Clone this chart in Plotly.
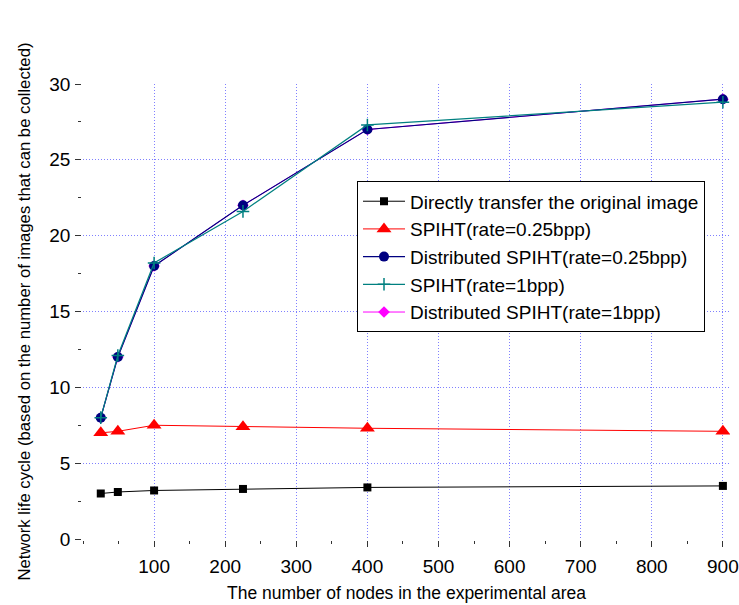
import plotly.graph_objects as go

nodes = [25, 49, 100, 225, 400, 900]
direct = [3.0, 3.1, 3.2, 3.3, 3.4, 3.5]
spiht_025 = [7.0, 7.1, 7.5, 7.4, 7.3, 7.1]
dist_025 = [8.0, 12.0, 18.0, 22.0, 27.0, 29.0]
spiht_1 = [8.0, 12.1, 18.2, 21.6, 27.3, 28.8]
dist_1 = [8.0, 12.0, 18.0, 22.0, 27.0, 29.0]

names = ["Directly transfer the original image", "SPIHT(rate=0.25bpp)",
         "Distributed SPIHT(rate=0.25bpp)", "SPIHT(rate=1bpp)", "Distributed SPIHT(rate=1bpp)"]

FONT = "Liberation Sans, Arial, sans-serif"
fig = go.Figure()

fig.add_trace(go.Scatter(x=nodes, y=direct, name=names[0], mode="lines+markers",
                         line=dict(color="#000000", width=1),
                         marker=dict(symbol="square", size=8, color="#000000")))
fig.add_trace(go.Scatter(x=nodes, y=spiht_025, name=names[1], mode="lines+markers",
                         line=dict(color="#ff0000", width=1),
                         marker=dict(symbol="triangle-up", size=13, color="#ff0000")))
fig.add_trace(go.Scatter(x=nodes, y=dist_025, name=names[2], mode="lines+markers",
                         line=dict(color="#000080", width=1.2),
                         marker=dict(symbol="circle", size=10, color="#000080")))
fig.add_trace(go.Scatter(x=nodes, y=spiht_1, name=names[3], mode="lines+markers",
                         line=dict(color="#008080", width=1.2),
                         marker=dict(symbol="cross-thin", size=9, color="#008080",
                                     line=dict(color="#008080", width=1.5))))
fig.add_trace(go.Scatter(x=nodes, y=dist_1, name=names[4], mode="lines+markers", zorder=-1,
                         line=dict(color="#ff00ff", width=1),
                         marker=dict(symbol="diamond", size=9, color="#ff00ff")))

grid = dict(showgrid=True, gridcolor="#8080ff", gridwidth=1, griddash="1px,2px")
axis_common = dict(showline=True, linecolor="#333333", linewidth=1.5, ticks="outside",
                   ticklen=6, tickwidth=1.3, tickcolor="#333333", zeroline=False,
                   automargin=False, tickfont=dict(size=19, color="#000"), **grid)
fig.update_xaxes(range=[0, 910], tickvals=[100, 200, 300, 400, 500, 600, 700, 800, 900],
                 minor=dict(ticks="outside", ticklen=3, tickwidth=1, tickcolor="#333333",
                            dtick=50, tick0=0, showgrid=False),
                 ticklabelstandoff=3,
                 title=dict(text="The number of nodes in the experimental area",
                            font=dict(size=17.5, color="#000"), standoff=11),
                 **axis_common)
fig.update_yaxes(range=[0, 30], tickvals=[0, 5, 10, 15, 20, 25, 30],
                 minor=dict(ticks="outside", ticklen=3, tickwidth=1, tickcolor="#333333",
                            dtick=2.5, tick0=0, showgrid=False),
                 ticklabelstandoff=1,
                 title=dict(text="Network life cycle (based on the number of images that can be collected)",
                            font=dict(size=16.7, color="#000"), standoff=14),
                 **axis_common)

fig.update_layout(
    width=739, height=605,
    margin=dict(l=83, r=9, t=84, b=66),
    paper_bgcolor="white", plot_bgcolor="white",
    font=dict(family=FONT, color="#000"),
    legend=dict(x=0.4235, y=0.786, xanchor="left", yanchor="top",
                bordercolor="#000", borderwidth=1, bgcolor="white",
                font=dict(size=19, color="#000"), itemwidth=42, tracegroupgap=0),
)

fig.write_html("out.html", config={"displayModeBar": False},
               post_script="document.body.style.margin='0';document.body.style.overflow='hidden';")
